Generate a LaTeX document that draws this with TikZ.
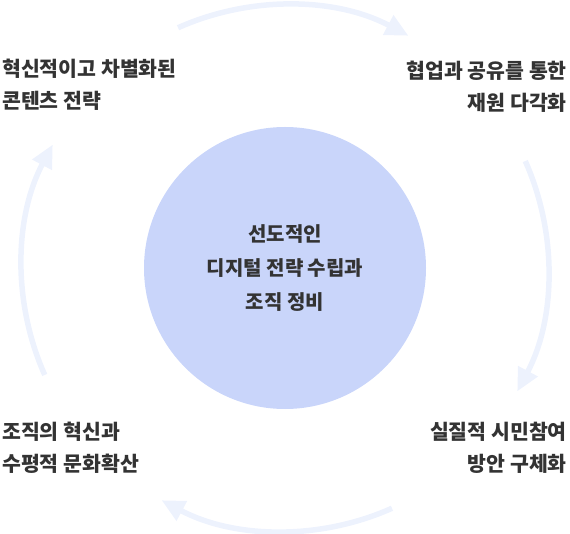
\documentclass[tikz,border=0pt]{standalone}
\usepackage{fontspec}
\setmainfont{Noto Sans CJK KR}
\usetikzlibrary{arrows.meta}
\definecolor{hubblue}{HTML}{C9D5FA}
\definecolor{loopblue}{HTML}{EDF2FD}
\definecolor{txtgray}{HTML}{333333}
\begin{document}
\begin{tikzpicture}[x=1pt,y=1pt,font=\bfseries\fontsize{20.5}{32.5}\selectfont,text=txtgray]
\useasboundingbox (0,0) rectangle (570,533);
\node[circle,fill=hubblue,minimum size=282pt,inner sep=0,align=center,font=\bfseries\fontsize{20}{34}\selectfont] at (285,265)(hub){선도적인\\디지털 전략 수립과\\조직 정비};
\foreach \a in {114,24,-66,-156}{
    \draw[shift={(hub.center)},loopblue,line width=5.5pt,-{Triangle[length=23pt,width=21pt]}] (\a:263) arc[start angle=\a,end angle=\a-52,radius=263];
}
\node[align=left,anchor=west,inner sep=0] at (2,448)(tl){혁신적이고 차별화된\\콘텐츠 전략};
\node[align=right,anchor=east,inner sep=0] at (567,446)(tr){협업과 공유를 통한\\재원 다각화};
\node[align=right,anchor=east,inner sep=0] at (567,85)(br){실질적 시민참여\\방안 구체화};
\node[align=left,anchor=west,inner sep=0] at (2,85)(bl){조직의 혁신과\\수평적 문화확산};
\end{tikzpicture}
\end{document}
